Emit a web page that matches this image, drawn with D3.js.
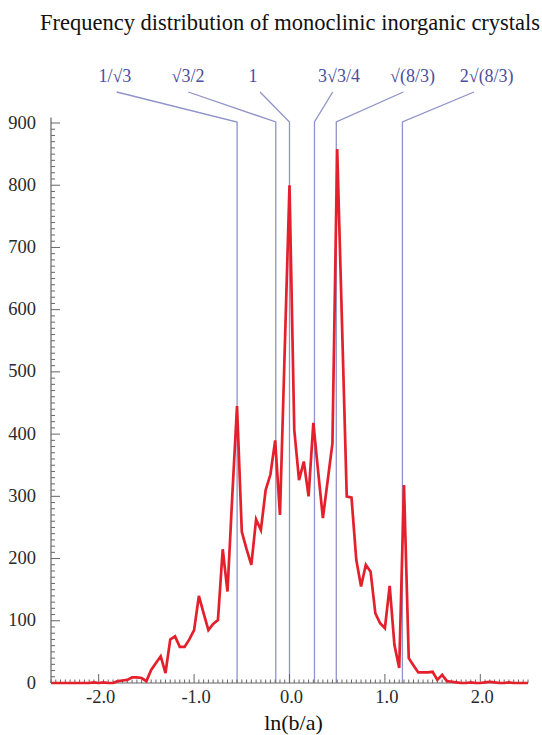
<!DOCTYPE html>
<html>
<head>
<meta charset="utf-8">
<script src="https://cdn.jsdelivr.net/npm/d3@7"></script>
<style>
  html, body { margin: 0; padding: 0; background: #fff; }
  svg { display: block; }
  text { font-family: "Liberation Serif", "DejaVu Serif", serif; }
</style>
</head>
<body>
<svg id="chart" width="542" height="735"></svg>
<script>
// Bin centres of ln(b/a) and the number of monoclinic crystals in each bin
const binCenters = [
  -2.50, -2.45, -2.40, -2.35, -2.30, -2.25, -2.20, -2.15, -2.10, -2.05,
  -2.00, -1.95, -1.90, -1.85, -1.80, -1.75, -1.70, -1.65, -1.60, -1.55,
  -1.50, -1.45, -1.40, -1.35, -1.30, -1.25, -1.20, -1.15, -1.10, -1.05,
  -1.00, -0.95, -0.90, -0.85, -0.80, -0.75, -0.70, -0.65, -0.60, -0.55,
  -0.50, -0.45, -0.40, -0.35, -0.30, -0.25, -0.20, -0.15, -0.10, -0.05,
   0.00,  0.05,  0.10,  0.15,  0.20,  0.25,  0.30,  0.35,  0.40,  0.45,
   0.50,  0.55,  0.60,  0.65,  0.70,  0.75,  0.80,  0.85,  0.90,  0.95,
   1.00,  1.05,  1.10,  1.15,  1.20,  1.25,  1.30,  1.35,  1.40,  1.45,
   1.50,  1.55,  1.60,  1.65,  1.70,  1.75,  1.80,  1.85,  1.90,  1.95,
   2.00,  2.05,  2.10,  2.15,  2.20,  2.25,  2.30,  2.35,  2.40,  2.45,
   2.50
];
const counts = [
    0,   0,   0,   0,   0,   0,   0,   0,   0,   1,
    0,   1,   0,   0,   3,   4,   5,   9,   9,   8,
    3,  21,  32,  43,  16,  70,  75,  58,  58,  70,
   85, 140, 112,  85,  95, 101, 215, 147, 300, 445,
  243, 215, 190, 263, 246, 310, 335, 390, 270, 535,
  800, 407, 326, 356, 300, 418, 340, 265, 325, 385,
  858, 580, 300, 298, 198, 155, 190, 179, 112,  96,
   88, 156,  61,  24, 318,  40,  28,  17,  17,  17,
   18,   5,  13,   3,   2,   1,   0,   0,   1,   0,
    0,   1,   2,   1,   0,   0,   1,   0,   0,   0,
    0
];

// Ideal axial ratios b/a marked by guide lines
const guideLabels = ["1/\u221A3", "\u221A3/2", "1", "3\u221A3/4", "\u221A(8/3)", "2\u221A(8/3)"];
const guideRatios = [1 / Math.sqrt(3), Math.sqrt(3) / 2, 1, 3 * Math.sqrt(3) / 4, Math.sqrt(8 / 3), 2 * Math.sqrt(8 / 3)];
// where each guide's label sits along the ln(b/a) axis, and where its leader ends
const guideLabelAt = [-1.83, -1.064, -0.383, 0.519, 1.289, 2.067];
const guideLeaderAt = [-1.811, -1.061, -0.309, 0.453, 1.193, 1.934];

const xTickValues = [-2, -1, 0, 1, 2];
const xTickLabels = ["-2.0", "-1.0", "0.0", "1.0", "2.0"];
const yTickValues = [0, 100, 200, 300, 400, 500, 600, 700, 800, 900];

const titleText = "Frequency distribution of monoclinic inorganic crystals";
const xTitle = "ln(b/a)";

const svg = d3.select("#chart");

const x = d3.scaleLinear().domain([-2.5, 2.5]).range([51, 528]);
const y = d3.scaleLinear().domain([0, 900]).range([683, 123]);

const axisColor = "#666666";
const textColor = "#2a2a2a";
const guideColor = "#8f93c9";
const guideText = "#4b4f9e";
const lineColor = "#e3202b";

// Title
svg.append("text")
  .attr("x", 40).attr("y", 30)
  .attr("font-size", 22.5)
  .attr("fill", "#111")
  .text(titleText);

// Guide lines: vertical from the baseline, elbowing up to the label
const elbowY = 122, endY = 92, labelY = 82;
const guides = guideRatios.map((r, i) => ({
  label: guideLabels[i],
  pos: Math.log(r),
  labelAt: guideLabelAt[i],
  leaderAt: guideLeaderAt[i]
}));

const gGuide = svg.append("g");
gGuide.selectAll("path").data(guides).join("path")
  .attr("d", d => `M${x(d.pos)},${y(0)}L${x(d.pos)},${elbowY}L${x(d.leaderAt)},${endY}`)
  .attr("fill", "none")
  .attr("stroke", guideColor)
  .attr("stroke-width", 1.3);

gGuide.selectAll("text").data(guides).join("text")
  .attr("x", d => x(d.labelAt))
  .attr("y", labelY)
  .attr("text-anchor", "middle")
  .attr("font-size", 18)
  .attr("fill", guideText)
  .text(d => d.label);

// Y axis: major ticks every 100, minor every 10, drawn inward
const gy = svg.append("g").attr("transform", `translate(${x(-2.5)},0)`);
gy.append("line")
  .attr("x1", 0).attr("x2", 0)
  .attr("y1", y(0)).attr("y2", y(909))
  .attr("stroke", axisColor).attr("stroke-width", 1.2);
gy.selectAll("line.minor").data(d3.range(0, 901, 10)).join("line")
  .attr("class", "minor")
  .attr("x1", 0).attr("x2", d => d % 100 === 0 ? 9 : 4)
  .attr("y1", d => y(d)).attr("y2", d => y(d))
  .attr("stroke", axisColor).attr("stroke-width", 1);
gy.selectAll("text").data(yTickValues).join("text")
  .attr("x", -15)
  .attr("y", d => y(d))
  .attr("dy", "0.3em")
  .attr("text-anchor", "end")
  .attr("font-size", 18.5)
  .attr("fill", textColor)
  .text(d => d);

// X axis: major ticks at integers, minor every 0.05, drawn inward
const gx = svg.append("g").attr("transform", `translate(0,${y(0)})`);
gx.append("line")
  .attr("x1", x(-2.5)).attr("x2", x(2.5))
  .attr("y1", 0).attr("y2", 0)
  .attr("stroke", axisColor).attr("stroke-width", 1.2);
gx.selectAll("line.minor").data(binCenters).join("line")
  .attr("class", "minor")
  .attr("x1", d => x(d)).attr("x2", d => x(d))
  .attr("y1", 0).attr("y2", d => Math.abs(d - Math.round(d)) < 1e-6 ? -9 : -3.5)
  .attr("stroke", axisColor).attr("stroke-width", 1);
gx.selectAll("text").data(xTickValues).join("text")
  .attr("x", d => x(d) + 2)
  .attr("y", 19.5)
  .attr("text-anchor", "middle")
  .attr("font-size", 18.5)
  .attr("fill", textColor)
  .text((d, i) => xTickLabels[i]);

svg.append("text")
  .attr("x", x(0) + 4).attr("y", 730)
  .attr("text-anchor", "middle")
  .attr("font-size", 22)
  .attr("fill", "#111")
  .text(xTitle);

// Frequency polyline
const line = d3.line()
  .x((d, i) => x(binCenters[i]))
  .y(d => y(d));
svg.append("path")
  .datum(counts)
  .attr("d", line)
  .attr("fill", "none")
  .attr("stroke", lineColor)
  .attr("stroke-width", 2.7)
  .attr("stroke-linejoin", "miter")
  .attr("stroke-miterlimit", 4);
</script>
</body>
</html>
